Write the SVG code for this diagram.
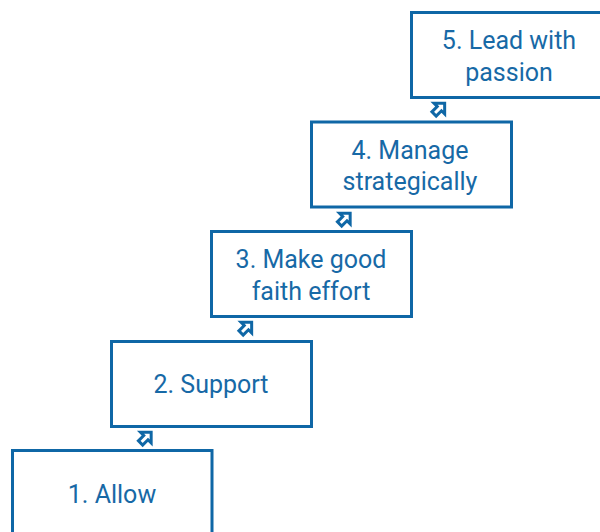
<svg xmlns="http://www.w3.org/2000/svg" width="600" height="532" viewBox="0 0 600 532">
<defs>
<style>
.box{fill:#ffffff;stroke:#0f67a6;stroke-width:3}
.lbl{font-family:Roboto,"Liberation Sans",sans-serif;font-size:25px;fill:#1769a6;text-anchor:middle}
.arr{fill:#ffffff;stroke:#0f67a6;stroke-width:3;stroke-linejoin:miter}
</style>
<path id="arrow" class="arr" d="M-7.5,-0.5 L0,-8 L7.5,-0.5 L3,-0.5 L3,7 L-3,7 L-3,-0.5 Z"/>
</defs>
<rect width="600" height="532" fill="#ffffff"/>
<g id="connectors">
<use href="#arrow" transform="translate(145.5,438) rotate(45)"/>
<use href="#arrow" transform="translate(246,328) rotate(45)"/>
<use href="#arrow" transform="translate(344.5,219) rotate(45)"/>
<use href="#arrow" transform="translate(439,109) rotate(45)"/>
</g>
<g id="node1">
<rect class="box" x="12.5" y="450.5" width="199.5" height="100"/>
<text class="lbl" x="112" y="503">1. Allow</text>
</g>
<g id="node2">
<rect class="box" x="111.5" y="341.5" width="200" height="85"/>
<text class="lbl" x="211" y="393">2. Support</text>
</g>
<g id="node3">
<rect class="box" x="211.5" y="231.5" width="200" height="85"/>
<text class="lbl" x="311" y="268">3. Make good</text>
<text class="lbl" x="311" y="300">faith effort</text>
</g>
<g id="node4">
<rect class="box" x="311.5" y="122" width="200" height="85"/>
<text class="lbl" x="410" y="159">4. Manage</text>
<text class="lbl" x="410" y="190">strategically</text>
</g>
<g id="node5">
<rect class="box" x="411.5" y="12.5" width="200" height="85"/>
<text class="lbl" x="509" y="49">5. Lead with</text>
<text class="lbl" x="509" y="81">passion</text>
</g>
</svg>
